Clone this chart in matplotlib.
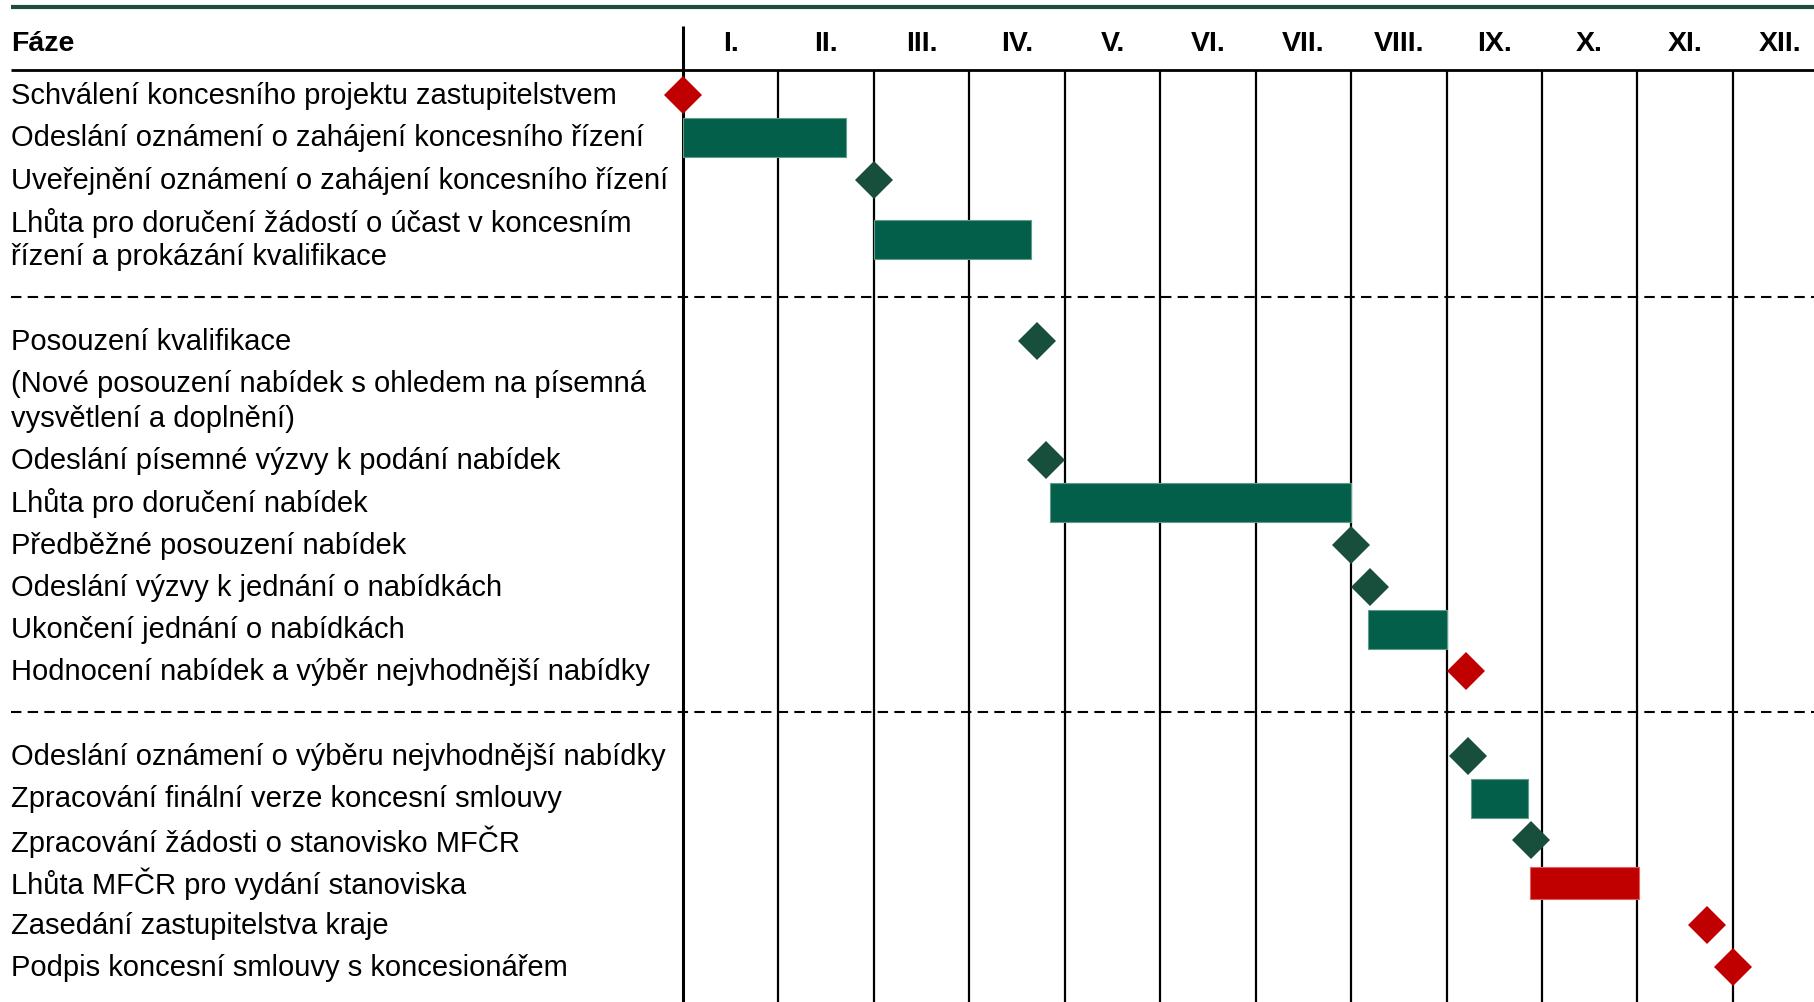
import matplotlib
matplotlib.use('Agg')
import matplotlib.pyplot as plt
from matplotlib.transforms import blended_transform_factory
import numpy as np

plt.rcParams['font.family'] = ['Liberation Sans', 'DejaVu Sans']

# data (months from start of year)
months = ['I.', 'II.', 'III.', 'IV.', 'V.', 'VI.', 'VII.', 'VIII.', 'IX.', 'X.', 'XI.', 'XII.']

labels = [
    'Schválení koncesního projektu zastupitelstvem',
    'Odeslání oznámení o zahájení koncesního řízení',
    'Uveřejnění oznámení o zahájení koncesního řízení',
    'Lhůta pro doručení žádostí o účast v koncesním\nřízení a prokázání kvalifikace',
    'Posouzení kvalifikace',
    '(Nové posouzení nabídek s ohledem na písemná\nvysvětlení a doplnění)',
    'Odeslání písemné výzvy k podání nabídek',
    'Lhůta pro doručení nabídek',
    'Předběžné posouzení nabídek',
    'Odeslání výzvy k jednání o nabídkách',
    'Ukončení jednání o nabídkách',
    'Hodnocení nabídek a výběr nejvhodnější nabídky',
    'Odeslání oznámení o výběru nejvhodnější nabídky',
    'Zpracování finální verze koncesní smlouvy',
    'Zpracování žádosti o stanovisko MFČR',
    'Lhůta MFČR pro vydání stanoviska',
    'Zasedání zastupitelstva kraje',
    'Podpis koncesní smlouvy s koncesionářem',
]
kind = ['m', 'b', 'm', 'b', 'm', '', 'm', 'b', 'm', 'm', 'b', 'm',
        'm', 'b', 'm', 'b', 'm', 'm']
start = [0.0, 0.0, 2.0, 2.0, 3.71, np.nan, 3.8, 3.85, 7.0, 7.2, 7.18, 8.2,
         8.23, 8.26, 8.88, 8.87, 10.73, 11.0]
end = [np.nan, 1.71, np.nan, 3.65, np.nan, np.nan, np.nan, 7.0, np.nan, np.nan, 8.01, np.nan,
       np.nan, 8.85, np.nan, 10.02, np.nan, np.nan]
critical = [1, 0, 0, 0, 0, 0, 0, 0, 0, 0, 0, 1,
            0, 0, 0, 1, 1, 1]
section = [0, 0, 0, 0, 1, 1, 1, 1, 1, 1, 1, 1,
           2, 2, 2, 2, 2, 2]

BAR_GREEN = '#035f49'
MS_GREEN = '#174f3c'
RED = '#c00000'

W, H = 1815, 1003
fig = plt.figure(figsize=(W / 100, H / 100), dpi=100)
x0 = 683
colw = 95.44
ax = fig.add_axes([x0 / W, 0, 12 * colw / W, 1])
ax.set_xlim(0, 12)
ax.set_ylim(H, 0)
ax.axis('off')
trans = blended_transform_factory(fig.transFigure, ax.transData)
lx = 11 / W
fs = 21
fs_head = 20.5
tshift = 1.5  # va='center' sits a little high for this font

# row layout (pixels from top)
pitch, wrap = 42.25, 34.7
cur = 94.5
rows_y = []
dividers = []
for i, lab in enumerate(labels):
    if i > 0 and section[i] != section[i - 1]:
        dividers.append(cur - 0.5)
        cur += pitch
    lines = lab.split('\n')
    for j, ln in enumerate(lines):
        ax.text(lx, cur + j * wrap + tshift, ln, transform=trans, fontsize=fs,
                ha='left', va='center', color='black')
    rows_y.append(cur + (len(lines) - 1) * wrap / 2)
    cur += (len(lines) - 1) * wrap + pitch

# top rule, header, header underline
ax.plot([lx, 1.2], [8, 8], transform=trans, color='#1d4d3c', lw=3, clip_on=False,
        solid_capstyle='butt')
ax.text(lx, 42 + tshift, 'Fáze', transform=trans, fontsize=fs_head, fontweight='bold',
        ha='left', va='center')
ax.plot([lx, 1.2], [71, 71], transform=trans, color='black', lw=2, clip_on=False,
        solid_capstyle='butt')
for k, m in enumerate(months):
    ax.text(k + 0.5, 42 + tshift, m, fontsize=fs_head, fontweight='bold',
            ha='center', va='center')

# month grid
ax.vlines(0, 27, H, color='black', lw=2.2, clip_on=False)
ax.vlines(np.arange(1, 13), 71, H, color='black', lw=1.6, clip_on=False)

# section dividers
for y in dividers:
    ax.plot([lx, 1.2], [y, y], transform=trans, color='black', lw=1.5,
            dashes=(5, 3), clip_on=False)

# tasks
for i in range(len(labels)):
    c = RED if critical[i] else None
    y = rows_y[i] + 1.5
    if kind[i] == 'b':
        fc = c or BAR_GREEN
        ec = '#e06060' if critical[i] else '#5f9c8a'
        h = 32 if critical[i] else 39
        ax.barh(y, end[i] - start[i], left=start[i], height=h, color=fc,
                edgecolor=ec, linewidth=0.8, zorder=3)
    elif kind[i] == 'm':
        ax.plot(start[i], y, marker='D', ms=19.5, color=c or MS_GREEN,
                mew=0, zorder=4, clip_on=False)

fig.savefig('out.png', dpi=100)
